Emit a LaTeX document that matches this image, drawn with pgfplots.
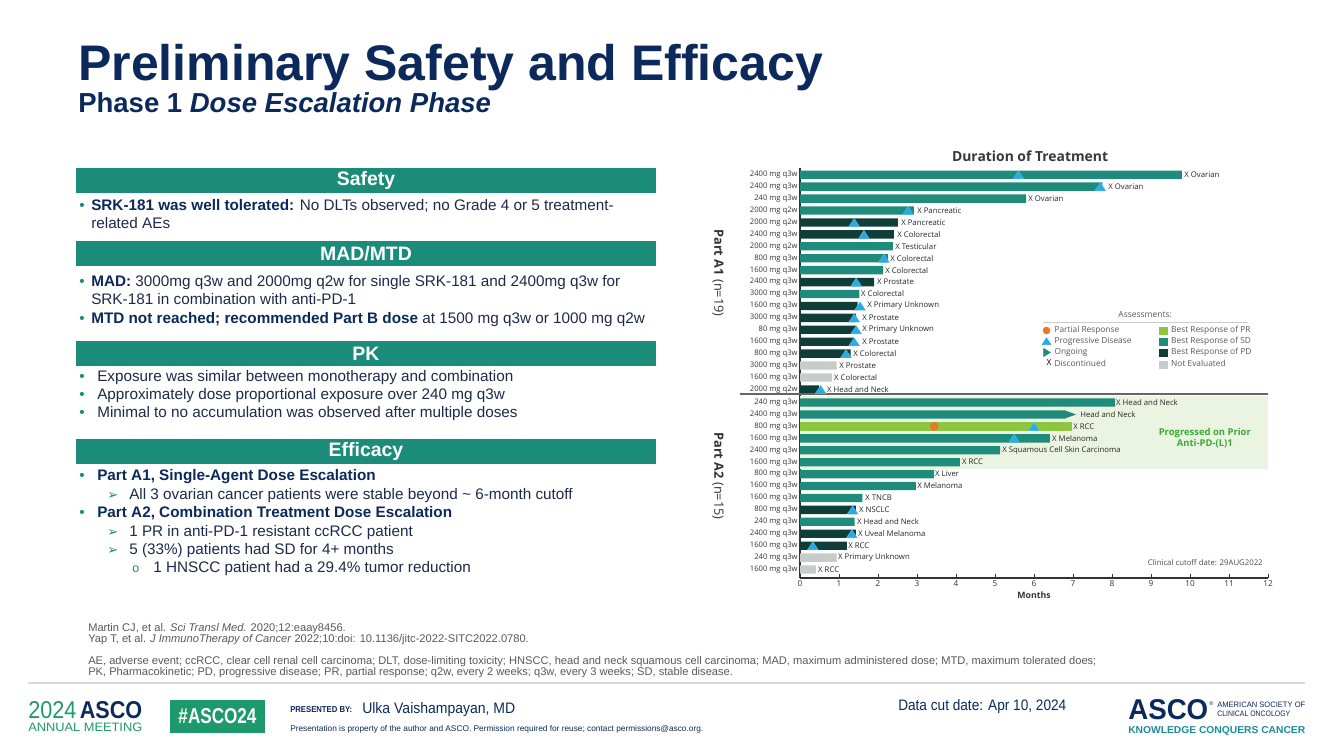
\documentclass[border=0pt]{standalone}
\usepackage{pgfplots}
\pgfplotsset{compat=1.18}
\usepackage{fontspec}
\usepackage{graphicx}
\setmainfont{Liberation Sans}
\newfontfamily\chartfont{Open Sans}
\newfontfamily\symfont{DejaVu Sans}
\newlength\pxu \setlength\pxu{0.72pt}
\newcommand{\fs}[1]{\fontsize{#1}{#1}\selectfont}
\definecolor{navy}{HTML}{0B2A5B}
\definecolor{hdrgreen}{HTML}{1B8C7A}
\definecolor{bodytxt}{HTML}{1E2A4A}
\definecolor{sdcol}{HTML}{1F8B7B}
\definecolor{pdcol}{HTML}{0F3D37}
\definecolor{prcol}{HTML}{8DC63F}
\definecolor{necol}{HTML}{C5CCCA}
\definecolor{tricol}{HTML}{29ABE2}
\definecolor{circcol}{HTML}{E8792A}
\definecolor{shadecol}{HTML}{EBF4E1}
\definecolor{shadetxt}{HTML}{3AAA35}
\definecolor{foot}{HTML}{595959}
\definecolor{ascogreen}{HTML}{1D9A6C}
\definecolor{ascoteal}{HTML}{1B8C9A}
\tikzset{
  txt/.style={anchor=base west, inner sep=0pt, text=bodytxt, font=\fs{11}},
  bul/.style={anchor=base west, inner sep=0pt, text=hdrgreen, font=\fs{11}},
  arr/.style={anchor=base west, inner sep=0pt, text=hdrgreen, font=\symfont\fs{9.5}},
  refs/.style={anchor=base west, inner sep=0pt, text=foot, font=\fs{8}},
}
\begin{document}
\begin{tikzpicture}[x=0.72pt,y=0.72pt]
\path[use as bounding box, fill=white] (0,0) rectangle (1333,749);
\coordinate (axorig) at (800,749-578);
% ---------- title ----------
\node[anchor=base west, inner sep=0pt, text=navy, font=\bfseries\fs{36}] at (78,749-81) {Preliminary Safety and Efficacy};
\node[anchor=base west, inner sep=0pt, text=navy, font=\bfseries\fs{19.8}] at (78,749-113) {Phase 1 \textit{Dose Escalation Phase}};
% ---------- section headers ----------
\foreach \yt/\lab in {168/Safety, 241/{MAD/MTD}, 341/PK, 439/Efficacy} {
  \fill[hdrgreen] (76,749-\yt) rectangle (656,749-\yt-25);
  \node[text=white, font=\bfseries\fs{14}, inner sep=0pt] at (366,749-\yt-12.5) {\lab};
}
% ---------- Safety ----------
\node[bul] at (79,749-211) {•};
\node[txt] at (91,749-211) {\textbf{\color{navy}SRK-181 was well tolerated:} No DLTs observed; no Grade 4 or 5 treatment-};
\node[txt] at (91,749-229) {related AEs};
% ---------- MAD/MTD ----------
\node[bul] at (79,749-287) {•};
\node[txt] at (91,749-287) {\textbf{\color{navy}MAD:} 3000mg q3w and 2000mg q2w for single SRK-181 and 2400mg q3w for};
\node[txt] at (91,749-305) {SRK-181 in combination with anti-PD-1};
\node[bul] at (79,749-324) {•};
\node[txt] at (91,749-324) {\textbf{\color{navy}MTD not reached; recommended Part B dose} at 1500 mg q3w or 1000 mg q2w};
% ---------- PK ----------
\node[bul] at (79,749-382) {•};
\node[txt] at (97,749-382) {Exposure was similar between monotherapy and combination};
\node[bul] at (79,749-400) {•};
\node[txt] at (97,749-400) {Approximately dose proportional exposure over 240 mg q3w};
\node[bul] at (79,749-418) {•};
\node[txt] at (97,749-418) {Minimal to no accumulation was observed after multiple doses};
% ---------- Efficacy ----------
\node[bul] at (79,749-481) {•};
\node[txt, text=navy, font=\bfseries\fs{11}] at (97,749-481) {Part A1, Single-Agent Dose Escalation};
\node[arr] at (107,749-499) {➢};
\node[txt] at (129,749-499) {All 3 ovarian cancer patients were stable beyond \textasciitilde{} 6-month cutoff};
\node[bul] at (79,749-517) {•};
\node[txt, text=navy, font=\bfseries\fs{11}] at (97,749-517) {Part A2, Combination Treatment Dose Escalation};
\node[arr] at (107,749-536) {➢};
\node[txt] at (129,749-536) {1 PR in anti-PD-1 resistant ccRCC patient};
\node[arr] at (107,749-554) {➢};
\node[txt] at (129,749-554) {5 (33\%) patients had SD for 4+ months};
\node[bul, font=\fs{9}] at (132,749-572) {o};
\node[txt] at (153,749-572) {1 HNSCC patient had a 29.4\% tumor reduction};
% ---------- references ----------
\node[refs] at (88,749-631) {Martin CJ, et al. \textit{Sci Transl Med.} 2020;12:eaay8456.};
\node[refs] at (88,749-642) {Yap T, et al. \textit{J ImmunoTherapy of Cancer} 2022;10:doi: 10.1136/jitc-2022-SITC2022.0780.};
\node[refs] at (88,749-664) {AE, adverse event; ccRCC, clear cell renal cell carcinoma; DLT, dose-limiting toxicity; HNSCC, head and neck squamous cell carcinoma; MAD, maximum administered dose; MTD, maximum tolerated does;};
\node[refs] at (88,749-675) {PK, Pharmacokinetic; PD, progressive disease; PR, partial response; q2w, every 2 weeks; q3w, every 3 weeks; SD, stable disease.};
% ---------- footer ----------
\draw[black!15, line width=0.8pt] (28,749-683) -- (1305,749-683);
\node[anchor=base west, inner sep=0pt] at (28,749-718) {\resizebox{114\pxu}{17\pxu}{\textcolor{ascogreen}{2024}\,\textcolor{navy}{\bfseries ASCO}}};
\node[anchor=base west, inner sep=0pt, text=ascogreen] at (28,749-731) {\resizebox{114\pxu}{8.5\pxu}{ANNUAL MEETING}};
\fill[ascogreen] (170,749-700) rectangle (265,749-733);
\node[inner sep=0pt, text=white] at (217.5,749-716.5) {\resizebox{78\pxu}{15\pxu}{\bfseries\#ASCO24}};
\node[anchor=base west, inner sep=0pt, text=navy] at (290,749-712) {\resizebox{62\pxu}{6\pxu}{\bfseries PRESENTED BY:}};
\node[anchor=base west, inner sep=0pt, text=navy] at (362,749-713) {\resizebox{153\pxu}{11\pxu}{Ulka Vaishampayan, MD}};
\node[anchor=base west, inner sep=0pt, text=navy] at (290,749-731) {\resizebox{413\pxu}{6\pxu}{Presentation is property of the author and ASCO. Permission required for reuse; contact permissions@asco.org.}};
\node[anchor=base west, inner sep=0pt, text=navy] at (898,749-710) {\resizebox{168\pxu}{11\pxu}{Data cut date: Apr 10, 2024}};
\node[anchor=base west, inner sep=0pt, text=navy] at (1128,749-719) {\resizebox{80\pxu}{20\pxu}{\bfseries ASCO}};
\node[anchor=base west, inner sep=0pt, text=navy, font=\fs{4}] at (1209,749-705) {®};
\node[anchor=base west, inner sep=0pt, text=navy] at (1217,749-707) {\resizebox{88\pxu}{5.5\pxu}{AMERICAN SOCIETY OF}};
\node[anchor=base west, inner sep=0pt, text=navy] at (1217,749-716) {\resizebox{73\pxu}{5.5\pxu}{CLINICAL ONCOLOGY}};
\node[anchor=base west, inner sep=0pt, text=ascoteal] at (1128,749-733) {\resizebox{177\pxu}{7\pxu}{\bfseries KNOWLEDGE CONQUERS CANCER}};
% ---------- swimmer plot ----------
\begin{axis}[
  at={(axorig)}, anchor=south west,
  scale only axis, width=468\pxu, height=409.7\pxu,
  xmin=0, xmax=12, ymin=0.29, ymax=34.64,
  axis x line=bottom, axis y line=left,
  x axis line style={-, line width=1.4pt, color=black!80},
  y axis line style={-, line width=1.1pt, color=black!80},
  clip=false,
  xtick={0,1,...,12},
  ytick={1,2,3,4,5,6,7,8,9,10,11,12,13,14,15,16.1,17.1,18.1,19.1,20.1,21.1,22.1,23.1,24.1,25.1,26.1,27.1,28.1,29.1,30.1,31.1,32.1,33.1,34.1},
  yticklabels={1600 mg q3w,240 mg q3w,1600 mg q3w,2400 mg q3w,240 mg q3w,800 mg q3w,1600 mg q3w,1600 mg q3w,800 mg q3w,1600 mg q3w,2400 mg q3w,1600 mg q3w,800 mg q3w,2400 mg q3w,240 mg q3w,2000 mg q2w,1600 mg q3w,3000 mg q3w,800 mg q3w,1600 mg q3w,80 mg q3w,3000 mg q3w,1600 mg q3w,3000 mg q3w,2400 mg q3w,1600 mg q3w,800 mg q3w,2000 mg q2w,2400 mg q3w,2000 mg q2w,2000 mg q2w,240 mg q3w,2400 mg q3w,2400 mg q3w},
  tick align=inside, major tick length=3pt,
  xtick style={line width=0.6pt, color=black!80},
  ytick style={draw=none},
  xticklabel style={font=\chartfont\fs{5.9}, text=black!80, inner sep=1.5pt},
  yticklabel style={font=\chartfont\fs{5.5}, text=black!80, inner sep=1.5pt},
  /pgf/number format/assume math mode=true,
  legend columns=2,
  legend cell align=left,
  legend style={at={(axis cs:6.2,21.5)}, anchor=north west, draw=none, fill=none,
    inner sep=0pt, outer sep=0pt, font=\chartfont\fs{6}, text=black!65, row sep=0pt,
    nodes={inner sep=0pt, text height=5.7pt, text depth=2.2pt},
    /tikz/column 1/.style={column sep=2.3pt},
    /tikz/column 2/.style={column sep=19.5pt},
    /tikz/column 3/.style={column sep=2.3pt}},
]
% shaded region: progressed on prior anti-PD-(L)1
\addplot[fill=shadecol, draw=none, forget plot] coordinates {(0,9.43) (12,9.43) (12,15.55) (0,15.55)};
% bars: best response of SD
\addplot[xbar, bar width=0.7, bar shift=0pt, fill=sdcol, draw=none, forget plot] coordinates {
 (9.79,34.1) (7.75,33.1) (5.8,32.1) (2.92,31.1) (2.38,28.1) (2.25,27.1) (2.13,26.1) (1.52,24.1)
 (8.08,15) (6.8,14) (6.41,12) (5.13,11) (4.1,10) (3.44,9) (2.97,8) (1.6,7) (1.4,5)};
% bars: best response of PD
\addplot[xbar, bar width=0.7, bar shift=0pt, fill=pdcol, draw=none, forget plot] coordinates {
 (2.51,30.1) (2.41,29.1) (1.9,25.1) (1.48,23.1) (1.44,22.1) (1.44,21.1) (1.39,20.1) (1.3,19.1) (0.49,16.1)
 (1.43,6) (1.43,4) (1.2,3)};
% bars: best response of PR
\addplot[xbar, bar width=0.7, bar shift=0pt, fill=prcol, draw=none, forget plot] coordinates {(6.97,13)};
% bars: not evaluated
\addplot[xbar, bar width=0.7, bar shift=0pt, fill=necol, draw=none, forget plot] coordinates {
 (0.94,18.1) (0.82,17.1) (0.94,2) (0.41,1)};
% ongoing arrow head
\addplot[fill=sdcol, draw=none, forget plot] coordinates {(6.78,14.35) (7.08,14) (6.78,13.65)};
% progressive disease
\addplot[color=tricol, only marks, mark=triangle*, mark size=3.9pt, mark options={fill=tricol, draw=tricol!80!white, line width=0.3pt, xscale=1.15}, forget plot] coordinates {
 (5.6,33.98) (7.7,32.98) (2.77,30.98) (1.39,29.98) (1.64,28.98) (2.15,26.98) (1.44,24.98) (1.54,22.98)
 (1.39,21.98) (1.44,20.98) (1.39,19.98) (1.18,18.98) (0.53,15.98)
 (6.0,12.88) (5.49,11.88) (1.35,5.88) (1.33,3.88) (0.33,2.88)};
% partial response
\addplot[color=circcol, only marks, mark=*, mark size=3pt, mark options={fill=circcol, draw=circcol}, forget plot] coordinates {(3.44,13)};
% labels
\addplot[draw=none, mark=none, nodes near coords, point meta=explicit symbolic,
  nodes near coords style={anchor=west, inner sep=0pt, font=\chartfont\fs{5.6}, text=black!85}, forget plot]
  table[x=x, y=y, meta=lab, col sep=comma, row sep=\\] {
x,y,lab\\
9.85,34.1,X Ovarian\\
7.9,33.1,X Ovarian\\
5.85,32.1,X Ovarian\\
3.0,31.1,X Pancreatic\\
2.59,30.1,X Pancreatic\\
2.49,29.1,X Colorectal\\
2.44,28.1,X Testicular\\
2.31,27.1,X Colorectal\\
2.18,26.1,X Colorectal\\
1.97,25.1,X Prostate\\
1.56,24.1,X Colorectal\\
1.72,23.1,X Primary Unknown\\
1.59,22.1,X Prostate\\
1.59,21.1,X Primary Unknown\\
1.59,20.1,X Prostate\\
1.36,19.1,X Colorectal\\
1.0,18.1,X Prostate\\
0.87,17.1,X Colorectal\\
0.69,16.1,X Head and Neck\\
8.1,15,X Head and Neck\\
7.18,14,Head and Neck\\
7.0,13,X RCC\\
6.46,12,X Melanoma\\
5.18,11,X Squamous Cell Skin Carcinoma\\
4.15,10,X RCC\\
3.46,9,X Liver\\
3.0,8,X Melanoma\\
1.67,7,X TNCB\\
1.51,6,X NSCLC\\
1.46,5,X Head and Neck\\
1.48,4,X Uveal Melanoma\\
1.23,3,X RCC\\
0.97,2,X Primary Unknown\\
0.46,1,X RCC\\
};
% legend
\addlegendimage{legend image code/.code={\fill[circcol] (2.9pt,0pt) circle (2.5pt);}}
\addlegendentry{Partial Response}
\addlegendimage{legend image code/.code={\fill[prcol] (0pt,-2.5pt) rectangle (6.4pt,2.5pt);}}
\addlegendentry{Best Response of PR}
\addlegendimage{legend image code/.code={\fill[tricol] (-0.3pt,-2.3pt) -- (6.1pt,-2.3pt) -- (2.9pt,2.6pt) -- cycle;}}
\addlegendentry{Progressive Disease}
\addlegendimage{legend image code/.code={\fill[sdcol] (0pt,-2.5pt) rectangle (6.4pt,2.5pt);}}
\addlegendentry{Best Response of SD}
\addlegendimage{legend image code/.code={\fill[sdcol] (0.8pt,-2.9pt) -- (5.6pt,0pt) -- (0.8pt,2.9pt) -- cycle;}}
\addlegendentry{Ongoing}
\addlegendimage{legend image code/.code={\fill[pdcol] (0pt,-2.5pt) rectangle (6.4pt,2.5pt);}}
\addlegendentry{Best Response of PD}
\addlegendimage{legend image code/.code={\node[inner sep=0pt, font=\chartfont\fs{6}, text=black] at (2.9pt,0.8pt) {X};}}
\addlegendentry{Discontinued}
\addlegendimage{legend image code/.code={\fill[necol] (0pt,-2.5pt) rectangle (6.4pt,2.5pt);}}
\addlegendentry{Not Evaluated}
% annotations
\node[font=\chartfont\bfseries\fs{10}, text=black!78] at (axis cs:5.9,35.67) {Duration of Treatment};
\node[font=\chartfont\fs{6.1}, text=black!65] at (axis cs:8.85,22.34) {Assessments:};
\draw[black!20, line width=0.8pt] (axis cs:6.23,21.69) -- (axis cs:11.49,21.69);
\draw[black!60, line width=1.2pt] (axis cs:-1.54,15.69) -- (axis cs:12,15.69);
\node[align=center, font=\chartfont\bfseries\fontsize{6.8}{8.3}\selectfont, text=shadetxt] at (axis cs:10.38,12.03) {Progressed on Prior\\Anti-PD-(L)1};
\node[anchor=east, font=\chartfont\fs{5.6}, text=black!70, inner sep=0pt] at (axis cs:11.87,1.55) {Clinical cutoff date: 29AUG2022};
\node[font=\chartfont\bfseries\fs{6.3}, text=black!80] at (axis cs:6,-1.13) {Months};
\node[rotate=-90, font=\chartfont\fs{9.2}, text=black!80] at (axis cs:-2.1,25.86) {\textbf{Part A1} (n=19)};
\node[rotate=-90, font=\chartfont\fs{9.2}, text=black!80] at (axis cs:-2.1,8.84) {\textbf{Part A2} (n=15)};
\end{axis}
\end{tikzpicture}
\end{document}
